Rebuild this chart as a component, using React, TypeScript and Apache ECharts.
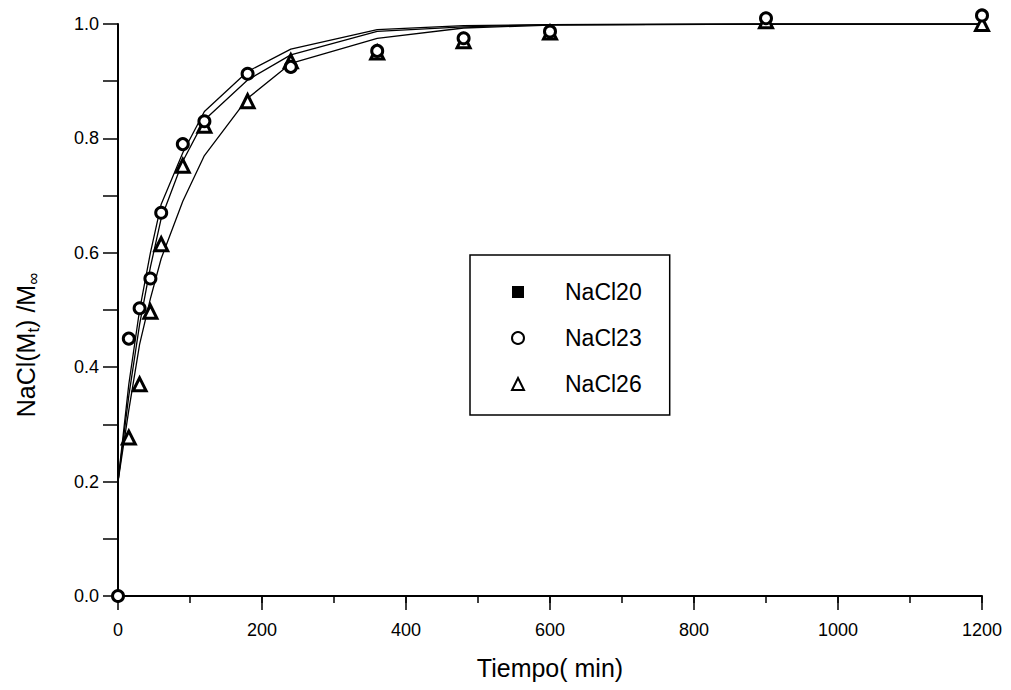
import React, { useEffect, useRef } from "react";
import * as echarts from "echarts";

const times = [0, 15, 30, 45, 60, 90, 120, 180, 240, 360, 480, 600, 900, 1200];

// measured points
const nacl20: number[][] = [];
const nacl23 = [
  [0, 0], [15, 0.45], [30, 0.503], [45, 0.555], [60, 0.67], [90, 0.79], [120, 0.83],
  [180, 0.913], [240, 0.925], [360, 0.953], [480, 0.975], [600, 0.987], [900, 1.01], [1200, 1.015],
];
const nacl26 = [
  [15, 0.277], [30, 0.37], [45, 0.497], [60, 0.615], [90, 0.752], [120, 0.822],
  [180, 0.865], [240, 0.935], [360, 0.95], [480, 0.97], [600, 0.985], [900, 1.005], [1200, 1.0],
];

// fitted curves (read at the measurement times)
const fitUpper = [0.2, 0.37, 0.5, 0.6, 0.685, 0.775, 0.847, 0.917, 0.956, 0.99, 0.997, 0.999, 1.0, 1.0];
const fitMiddle = [0.2, 0.35, 0.475, 0.575, 0.66, 0.76, 0.832, 0.902, 0.946, 0.987, 0.995, 0.999, 1.0, 1.0];
const fitLower = [0.2, 0.325, 0.44, 0.52, 0.59, 0.69, 0.77, 0.87, 0.931, 0.975, 0.993, 0.998, 1.0, 1.0];

const xMajor = { min: 0, max: 1200, interval: 200 };
const xMinor = { min: 0, max: 1200, interval: 100 };
const yTicks = { min: 0, max: 1, interval: 0.1 };

const FONT = "'Liberation Sans', Arial, sans-serif";

export default function App() {
  const ref = useRef<HTMLDivElement>(null);
  useEffect(() => {
    if (!ref.current) return;
    const chart = echarts.init(ref.current, undefined, { renderer: "svg" });
    const pair = (ys: number[]) => times.map((t, i) => [t, ys[i]]);
    const lineSeries = (name: string, ys: number[]) => ({
      name,
      type: "line",
      data: pair(ys),
      showSymbol: false,
      symbol: "none",
      lineStyle: { color: "#000", width: 1.3 },
      silent: true,
      z: 1,
    });
    const markerStyle = { color: "#fff", borderColor: "#000", borderWidth: 3, opacity: 1 };
    chart.setOption({
      animation: false,
      grid: { left: 118, right: 29, top: 24, bottom: 94 },
      xAxis: [
        {
          type: "value",
          position: "bottom",
          ...xMajor,
          name: "Tiempo( min)",
          nameLocation: "middle",
          nameGap: 59,
          nameTextStyle: { fontFamily: FONT, fontSize: 25, color: "#000" },
          axisLine: { show: true, onZero: false, lineStyle: { color: "#000", width: 2 } },
          axisTick: { show: true, inside: false, length: 14, lineStyle: { color: "#000", width: 1.5 } },
          axisLabel: {
            fontFamily: FONT, fontSize: 18, color: "#000", margin: 25,
            formatter: (v: number) => String(Math.round(v)),
          },
          splitLine: { show: false },
        },
        {
          type: "value",
          position: "bottom",
          ...xMinor,
          axisLine: { show: false, onZero: false },
          axisTick: { show: true, inside: false, length: 7, lineStyle: { color: "#000", width: 1.5 } },
          axisLabel: { show: false },
          splitLine: { show: false },
        },
      ],
      yAxis: {
        type: "value",
        ...yTicks,
        axisLine: { show: true, onZero: false, lineStyle: { color: "#000", width: 2 } },
        axisTick: { show: true, inside: false, length: 15, lineStyle: { color: "#000", width: 1.5 } },
        axisLabel: {
          fontFamily: FONT, fontSize: 18, color: "#000", margin: 19,
          formatter: (v: number) => (Math.round(v * 10) % 2 === 0 ? v.toFixed(1) : ""),
        },
        splitLine: { show: false },
      },
      legend: {
        orient: "vertical",
        left: 470,
        top: 255,
        data: ["NaCl20", "NaCl23", "NaCl26"],
        itemWidth: 12,
        itemHeight: 12,
        itemGap: 20,
        padding: [24, 28, 18, 41],
        borderColor: "#000",
        borderWidth: 1.5,
        textStyle: { fontFamily: FONT, fontSize: 23, color: "#000", padding: [0, 0, 0, 36], lineHeight: 26 },
      },
      graphic: [
        {
          type: "text",
          x: 26,
          y: 345,
          rotation: Math.PI / 2,
          style: {
            text: "{n|NaCl(M}{s|t}{n|) /M}{s|∞}",
            align: "center",
            verticalAlign: "middle",
            fill: "#000",
            rich: {
              n: { fontFamily: FONT, fontSize: 25, fill: "#000", lineHeight: 32, verticalAlign: "middle" },
              s: { fontFamily: FONT, fontSize: 17, fill: "#000", lineHeight: 32, verticalAlign: "bottom", padding: [8, 0, 0, 0] },
            },
          },
        },
      ],
      series: [
        lineSeries("Ajuste NaCl23", fitUpper),
        lineSeries("Ajuste NaCl20", fitMiddle),
        lineSeries("Ajuste NaCl26", fitLower),
        {
          name: "NaCl20",
          type: "scatter",
          data: nacl20,
          symbol: "rect",
          symbolSize: 11,
          itemStyle: { color: "#000", opacity: 1 },
          z: 3,
        },
        {
          name: "NaCl23",
          type: "scatter",
          data: nacl23,
          symbol: "circle",
          symbolSize: 11,
          clip: false,
          itemStyle: markerStyle,
          z: 4,
        },
        {
          name: "NaCl26",
          type: "scatter",
          data: nacl26,
          symbol: "triangle",
          symbolSize: 13,
          clip: false,
          itemStyle: markerStyle,
          z: 3,
        },
      ],
    });
    return () => chart.dispose();
  }, []);
  return (
    <div
      ref={ref}
      style={{ position: "fixed", left: 0, top: 0, width: 1011, height: 690, background: "#fff" }}
    />
  );
}
